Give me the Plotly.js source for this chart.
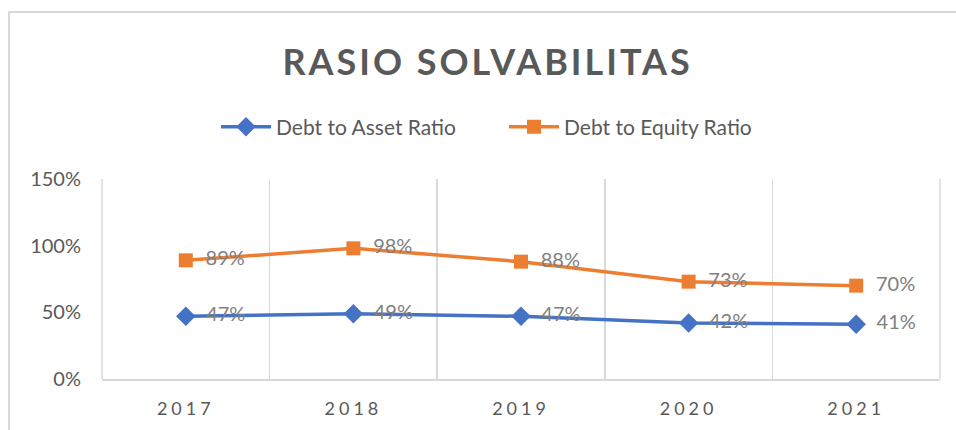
<!DOCTYPE html>
<html>
<head>
<meta charset="utf-8">
<script src="https://cdn.plot.ly/plotly-3.0.1.min.js"></script>
<style>
  html, body { margin: 0; padding: 0; background: #fff; }
  #wrap { position: relative; width: 956px; height: 430px; overflow: hidden; }
  #frame { position: absolute; left: 8px; top: 11px; width: 1000px; height: 500px;
           border-left: 2px solid #d9d9d9; border-top: 2px solid #d9d9d9; pointer-events: none; }
  #chart { position: absolute; left: 0; top: 0; width: 956px; height: 430px; }
  .gtitle { letter-spacing: 3px; }
  .xtick text { letter-spacing: 4px; }
</style>
</head>
<body>
<div id="wrap">
  <div id="chart"></div>
  <div id="frame"></div>
</div>
<script>
const years = ['2017', '2018', '2019', '2020', '2021'];
const debtToAsset = [0.47, 0.49, 0.47, 0.42, 0.41];
const debtToEquity = [0.89, 0.98, 0.88, 0.73, 0.70];
const yTickVals = [0, 0.5, 1.0, 1.5];
const yTickText = ['0%', '50%', '100%', '150%'];

const labelFont = { family: 'Lato, "Noto Sans", sans-serif', size: 20, color: '#808080' };
const pad = '\u2002';

const traces = [
  {
    x: years, y: debtToAsset, name: 'Debt to Asset Ratio',
    type: 'scatter', mode: 'lines+markers+text',
    line: { color: '#4472C4', width: 3.5 },
    marker: { symbol: 'diamond', size: 15, color: '#4472C4' },
    text: debtToAsset.map(v => pad + Math.round(v * 100) + '%'),
    textposition: 'middle right', textfont: labelFont, cliponaxis: false
  },
  {
    x: years, y: debtToEquity, name: 'Debt to Equity Ratio',
    type: 'scatter', mode: 'lines+markers+text',
    line: { color: '#ED7D31', width: 3.5 },
    marker: { symbol: 'square', size: 14, color: '#ED7D31' },
    text: debtToEquity.map(v => pad + Math.round(v * 100) + '%'),
    textposition: 'middle right', textfont: labelFont, cliponaxis: false
  }
];

const layout = {
  width: 956, height: 430,
  paper_bgcolor: 'rgba(0,0,0,0)', plot_bgcolor: 'rgba(0,0,0,0)',
  margin: { l: 102, r: 16, t: 179, b: 51, autoexpand: false },
  font: { family: 'Lato, "Noto Sans", sans-serif', color: '#595959' },
  title: {
    text: '<b>RASIO SOLVABILITAS</b>',
    font: { family: 'Lato, "Noto Sans", sans-serif', size: 36, color: '#595959' },
    x: 0.51, xanchor: 'center', y: 1 - 62 / 430, yanchor: 'middle',
    automargin: false
  },
  showlegend: true,
  legend: {
    orientation: 'h', xref: 'paper', x: (216 - 102) / 838, xanchor: 'left',
    y: 1.26, yanchor: 'middle',
    font: { size: 21, color: '#595959' },
    traceorder: 'normal', itemwidth: 50,
    entrywidth: 223, entrywidthmode: 'pixels'
  },
  shapes: [
    { type: 'line', xref: 'paper', yref: 'paper', x0: 0, x1: 0, y0: 0, y1: 1,
      line: { color: '#d9d9d9', width: 1.5 }, layer: 'below' },
    { type: 'line', xref: 'paper', yref: 'paper', x0: 1, x1: 1, y0: 0, y1: 1,
      line: { color: '#d9d9d9', width: 1.5 }, layer: 'below' }
  ],
  xaxis: {
    type: 'category', range: [-0.5, 4.5],
    tickson: 'boundaries', ticks: '',
    showgrid: true, gridcolor: '#d9d9d9', gridwidth: 1.5,
    showline: true, linecolor: '#d9d9d9', linewidth: 1.5,
    tickfont: { size: 18, color: '#595959' },
    ticklabelstandoff: 13, fixedrange: true
  },
  yaxis: {
    range: [0, 1.5], tickvals: yTickVals, ticktext: yTickText,
    showgrid: false, zeroline: false, showline: false, ticks: '',
    tickfont: { size: 20, color: '#595959' },
    ticklabelstandoff: 20, fixedrange: true
  }
};

Plotly.newPlot('chart', traces, layout, { displayModeBar: false, staticPlot: true });
</script>
</body>
</html>
